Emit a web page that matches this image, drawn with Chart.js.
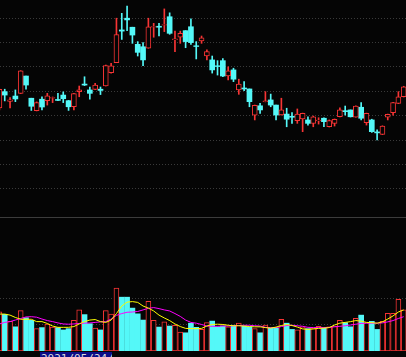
<!DOCTYPE html>
<html><head><meta charset="utf-8">
<script src="https://cdn.jsdelivr.net/npm/chart.js@4"></script>
<style>
html,body{margin:0;padding:0;background:#050505;width:406px;height:357px;overflow:hidden;}
#wrap{position:relative;width:406px;height:357px;}
#k{position:absolute;left:0;top:0;}
#sep{position:absolute;left:0;top:217px;width:406px;height:1px;background:#3c3c3c;}
#v{position:absolute;left:0;top:218px;}
#date{position:absolute;left:40px;top:352px;width:71px;height:14px;background:#0c0c86;color:#dcdcdc;font:11px "DejaVu Sans Mono",monospace;line-height:14px;padding-left:1px;white-space:nowrap;overflow:hidden;}
</style></head><body>
<div id="wrap">
<canvas id="k" width="406" height="217"></canvas>
<div id="sep"></div>
<canvas id="v" width="406" height="133"></canvas>
<div id="date"></div>
</div>
<script>
const dates = ['2021/04/29','2021/04/30','2021/05/06','2021/05/07','2021/05/10','2021/05/11','2021/05/12','2021/05/13','2021/05/14','2021/05/17',
 '2021/05/18','2021/05/19','2021/05/20','2021/05/21','2021/05/24','2021/05/25','2021/05/26','2021/05/27','2021/05/28','2021/05/31',
 '2021/06/01','2021/06/02','2021/06/03','2021/06/04','2021/06/07','2021/06/08','2021/06/09','2021/06/10','2021/06/11','2021/06/15',
 '2021/06/16','2021/06/17','2021/06/18','2021/06/21','2021/06/22','2021/06/23','2021/06/24','2021/06/25','2021/06/28','2021/06/29',
 '2021/06/30','2021/07/01','2021/07/02','2021/07/05','2021/07/06','2021/07/07','2021/07/08','2021/07/09','2021/07/12','2021/07/13',
 '2021/07/14','2021/07/15','2021/07/16','2021/07/19','2021/07/20','2021/07/21','2021/07/22','2021/07/23','2021/07/26','2021/07/27',
 '2021/07/28','2021/07/29','2021/07/30','2021/08/02','2021/08/03','2021/08/04','2021/08/05','2021/08/06','2021/08/09','2021/08/10',
 '2021/08/11','2021/08/12','2021/08/13','2021/08/16','2021/08/17','2021/08/18','2021/08/19'];
const opens = [12.32,12.99,12.59,12.81,12.92,13.63,12.72,12.21,12.68,12.62,
 12.72,12.67,12.85,12.62,12.37,12.99,13.30,13.06,13.08,13.09,
 13.22,13.77,14.18,15.52,16.00,15.63,14.93,14.83,14.77,15.63,
 15.67,15.71,16.06,15.12,15.22,15.49,15.65,14.87,15.07,14.45,
 14.29,14.05,14.26,13.63,13.88,13.06,13.14,13.10,12.03,12.41,
 12.58,12.65,12.44,12.04,12.07,11.98,11.80,11.87,11.83,11.69,
 11.79,11.90,11.55,11.69,11.96,12.21,12.24,11.94,12.35,11.72,
 11.83,11.34,11.24,11.94,12.13,12.51,12.78];
const highs = [13.10,13.09,12.75,13.06,13.85,13.63,12.72,12.57,12.78,12.92,
 12.77,12.92,12.98,12.63,12.92,13.22,13.60,13.18,13.33,13.18,
 14.08,14.15,16.00,16.20,16.50,15.63,15.04,15.00,16.00,15.79,
 15.79,16.38,16.22,15.47,15.47,15.49,15.97,15.04,15.27,14.70,
 14.45,14.26,14.34,14.01,13.95,13.50,13.40,13.10,12.44,12.51,
 12.99,12.89,12.44,12.72,12.31,12.13,12.28,12.11,11.96,11.99,
 11.92,11.92,11.83,11.87,12.33,12.40,12.24,12.41,12.54,12.11,
 11.86,11.42,11.59,12.07,12.55,12.99,13.21];
const lows = [12.24,12.61,12.32,12.58,12.91,13.09,12.22,12.20,12.24,12.44,
 12.54,12.62,12.54,12.22,12.24,12.78,13.24,12.68,13.07,12.87,
 13.22,13.75,14.18,15.13,15.49,14.97,14.45,14.05,14.77,15.22,
 15.27,15.45,15.34,14.63,14.97,14.79,14.93,14.33,14.97,14.29,
 13.75,13.67,13.60,13.47,13.40,12.88,13.03,12.37,11.83,12.10,
 12.57,12.37,11.83,12.03,11.55,11.69,11.69,11.35,11.62,11.55,
 11.66,11.55,11.54,11.58,11.95,12.03,11.95,11.94,11.83,11.62,
 11.32,11.01,11.23,11.83,12.03,12.50,12.77];
const closes = [13.08,12.85,12.65,12.69,13.84,13.26,12.39,12.54,12.36,12.82,
 12.75,12.63,12.70,12.37,12.91,13.06,13.26,12.92,13.26,13.04,
 14.06,14.05,15.33,15.47,15.93,15.31,14.60,14.29,15.65,15.66,
 15.63,15.74,15.38,15.15,15.38,15.04,15.00,14.84,15.20,14.63,
 13.88,14.02,13.63,13.84,13.50,13.30,13.10,12.58,12.43,12.24,
 12.61,12.44,12.03,12.24,11.86,11.94,12.07,12.10,11.69,11.96,
 11.82,11.76,11.80,11.86,12.24,12.17,11.96,12.40,11.90,12.10,
 11.35,11.30,11.58,12.06,12.54,12.78,13.19];
const volumes = [1.51,1.41,1.14,0.93,1.55,1.28,1.18,0.86,0.90,1.04,
 0.92,0.90,0.81,0.86,1.18,1.58,1.40,1.05,0.88,0.81,
 1.55,1.42,2.42,2.07,2.07,1.65,1.43,1.19,1.91,1.18,
 0.92,1.12,0.96,0.99,0.73,0.70,1.07,0.91,0.83,1.09,
 1.15,0.93,0.96,0.93,0.99,1.07,0.96,0.93,0.86,0.70,
 1.00,0.88,0.88,1.22,1.07,0.83,0.81,0.93,0.86,0.86,
 0.95,0.88,0.93,0.96,1.18,1.09,0.93,1.26,1.38,1.09,
 1.14,0.83,1.14,1.45,1.45,1.99,1.58];
const volMA5 = [1.42,1.42,1.38,1.29,1.22,1.22,1.22,1.13,1.13,1.06,
 0.96,0.91,0.91,0.91,0.94,1.04,1.13,1.19,1.21,1.13,
 1.10,1.19,1.44,1.73,1.88,1.90,1.87,1.73,1.65,1.54,
 1.38,1.27,1.17,1.04,0.94,0.87,0.86,0.86,0.87,0.96,
 1.02,1.03,1.02,0.99,0.97,0.97,0.96,0.94,0.93,0.93,
 0.90,0.88,0.92,0.98,1.02,0.98,0.92,0.85,0.83,0.85,
 0.87,0.88,0.90,1.00,1.07,1.10,1.13,1.17,1.15,1.10,
 1.09,1.07,1.12,1.23,1.35,1.50,1.58];
const volMA10 = [1.04,1.10,1.13,1.19,1.25,1.31,1.32,1.30,1.23,1.17,
 1.13,1.08,1.04,1.03,1.04,1.06,1.07,1.08,1.10,1.12,
 1.13,1.23,1.37,1.44,1.49,1.50,1.52,1.58,1.64,1.67,
 1.63,1.58,1.54,1.44,1.33,1.19,1.10,1.07,1.02,0.96,
 0.95,0.95,0.96,0.96,0.97,0.98,0.99,0.99,0.97,0.96,
 0.91,0.90,0.90,0.94,0.98,0.99,0.97,0.95,0.91,0.90,
 0.90,0.90,0.91,0.93,0.95,0.97,1.00,1.03,1.06,1.07,
 1.07,1.07,1.08,1.12,1.17,1.25,1.32];
const priceGridTicks = [9,10,11,12,13,14,15,16];
const volumeGridTicks = [1,2];
const cursorIndex = 14;
const cursorWeekday = '一';

const RED = '#f73434', CYAN = '#54f8f8', BG = '#050505', GRID = '#3a3a3a';
const idx = dates.map((d, i) => i);
const isUp = idx.map(i => closes[i] >= opens[i]);
const upIdx = idx.filter(i => isUp[i]);
const downIdx = idx.filter(i => !isUp[i]);

const xScale = {type: 'linear', min: 0.11, max: 76.43, display: false, offset: false};
function yScale(min, max, tickVals) {
  return {
    type: 'linear', min: min, max: max, bounds: 'data', display: true,
    afterBuildTicks: s => { s.ticks = tickVals.map(v => ({value: v})); },
    ticks: {display: false},
    grid: {color: GRID, lineWidth: 1, drawTicks: false},
    border: {display: false, dash: [1, 2]}
  };
}
const common = {
  responsive: false, animation: false, events: [],
  layout: {padding: 0},
  plugins: {legend: {display: false}, tooltip: {enabled: false}}
};

new Chart(document.getElementById('k'), {
  type: 'bar',
  data: {
    datasets: [
      {label: 'up', order: 0, grouped: false, barThickness: 5, borderWidth: 1, borderSkipped: false,
       backgroundColor: BG, borderColor: RED,
       data: upIdx.map(i => ({x: i, y: [opens[i], closes[i]]}))},
      {label: 'down', order: 0, grouped: false, barThickness: 5, borderWidth: 0,
       backgroundColor: CYAN,
       data: downIdx.map(i => ({x: i, y: [opens[i], closes[i]]}))},
      {label: 'wick', order: 1, grouped: false, barThickness: 1, borderWidth: 0,
       backgroundColor: c => isUp[c.dataIndex] ? RED : CYAN,
       data: idx.map(i => ({x: i, y: [lows[i], highs[i]]}))}
    ]
  },
  options: Object.assign({}, common, {
    scales: {x: xScale, y: yScale(7.852, 16.746, priceGridTicks)}
  })
});

new Chart(document.getElementById('v'), {
  type: 'bar',
  data: {
    datasets: [
      {type: 'line', label: 'MA5', order: 0, data: idx.map(i => ({x: i, y: volMA5[i]})),
       borderColor: '#ffff00', borderWidth: 1, pointRadius: 0, tension: 0},
      {type: 'line', label: 'MA10', order: 0, data: idx.map(i => ({x: i, y: volMA10[i]})),
       borderColor: '#ff00ff', borderWidth: 1, pointRadius: 0, tension: 0},
      {label: 'volUp', order: 1, grouped: false, barThickness: 5, borderWidth: 1, borderSkipped: false,
       backgroundColor: BG, borderColor: RED,
       data: upIdx.map(i => ({x: i, y: volumes[i]}))},
      {label: 'volDown', order: 1, grouped: false, barThickness: 5, borderWidth: 0,
       backgroundColor: CYAN,
       data: downIdx.map(i => ({x: i, y: volumes[i]}))}
    ]
  },
  options: Object.assign({}, common, {
    scales: {x: xScale, y: yScale(0, 5.115, volumeGridTicks)}
  })
});

document.getElementById('date').textContent = dates[cursorIndex] + '/' + cursorWeekday;
</script>
</body></html>
